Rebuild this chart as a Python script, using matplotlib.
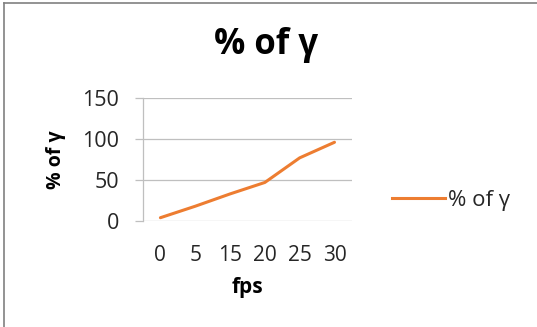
import matplotlib.pyplot as plt
from matplotlib.lines import Line2D

plt.rcParams['font.family'] = ['Open Sans', 'DejaVu Sans']

# data
fps_labels = ['0', '5', '15', '20', '25', '30']
gamma_pct = [4, 18, 33, 47, 77, 96]
y_ticks = [0, 50, 100, 150]

fig = plt.figure(figsize=(5.37, 3.27), dpi=100)
ax = fig.add_axes([0.2663, 0.3242, 0.389, 0.3761])

x = list(range(len(fps_labels)))
ax.plot(x, gamma_pct, color='#ED7D31', lw=2.2, solid_capstyle='round', label='% of γ')

ax.set_xlim(-0.5, len(fps_labels) - 0.5)
ax.set_ylim(0, 150)
ax.set_yticks(y_ticks)
ax.set_xticks(x)
ax.set_xticklabels(fps_labels)
ax.grid(axis='y', color='#bfbfbf', lw=0.9)
ax.set_axisbelow(True)

for s in ['top', 'right', 'bottom']:
    ax.spines[s].set_visible(False)
ax.spines['left'].set_color('#bfbfbf')
ax.spines['left'].set_linewidth(0.9)

ax.tick_params(axis='y', length=6, color='#bfbfbf', width=0.9, pad=11,
               labelsize=15.5, labelcolor='#262626')
ax.tick_params(axis='x', length=0, pad=17, labelsize=15, labelcolor='#262626')

ax.set_xlabel('fps', fontsize=15, fontweight='bold', labelpad=8)
ax.set_ylabel('% of γ', fontsize=14, fontweight='bold', labelpad=12)

fig.text(0.495, 0.862, '% of γ', ha='center', va='center', fontsize=25, fontweight='bold')

# legend drawn on the right
fig.legend(handles=[Line2D([], [], color='#ED7D31', lw=2.2)], labels=['% of γ'],
           loc='center left', bbox_to_anchor=(0.692, 0.388), frameon=False,
           fontsize=16, handlelength=2.4, handletextpad=0.12, labelcolor='#262626')

# outer frame (left and top edges only visible)
fig.add_artist(Line2D([0.008, 0.008], [0.0, 0.991], color='#808080', lw=1.2))
fig.add_artist(Line2D([0.008, 1.0], [0.991, 0.991], color='#808080', lw=1.2))

fig.savefig('out.png', dpi=100)
